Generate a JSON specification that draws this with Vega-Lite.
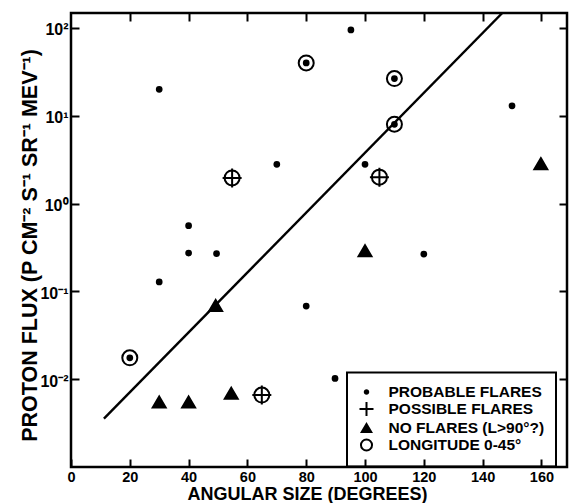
{
  "$schema": "https://vega.github.io/schema/vega-lite/v6.json",
  "width": 496,
  "height": 454,
  "autosize": {"type": "none"},
  "padding": {"left": 71, "top": 13, "right": 2, "bottom": 36},
  "background": "white",
  "config": {
    "view": {"stroke": "black", "strokeWidth": 2.5},
    "font": "Liberation Sans",
    "axis": {
      "domain": false,
      "grid": false,
      "tickColor": "black",
      "tickWidth": 2,
      "tickSize": -8,
      "labelFont": "Liberation Sans",
      "labelFontWeight": "bold",
      "labelColor": "black",
      "titleFont": "Liberation Sans",
      "titleFontWeight": "bold",
      "titleColor": "black"
    },
    "legend": {
      "strokeWidth": 2,
      "title": null,
      "orient": "none",
      "legendX": 276,
      "legendY": 359.5,
      "padding": 11.5,
      "symbolSize": 196,
      "symbolStrokeColor": "black",
      "symbolStrokeWidth": 2,
      "symbolOpacity": 1,
      "labelOffset": 14,
      "rowPadding": -3,
      "labelFont": "Liberation Sans",
      "labelFontSize": 15.5,
      "labelFontWeight": "bold",
      "labelColor": "black",
      "labelLimit": 300,
      "strokeColor": "black"
    }
  },
  "datasets": {
    "fit": [
      {"angle": 11.2, "flux": 0.00356},
      {"angle": 146.7, "flux": 148}
    ],
    "pts": [
      {"angle": 30, "flux": 20, "cat": "PROBABLE FLARES"},
      {"angle": 40, "flux": 0.56, "cat": "PROBABLE FLARES"},
      {"angle": 30, "flux": 0.128, "cat": "PROBABLE FLARES"},
      {"angle": 40, "flux": 0.273, "cat": "PROBABLE FLARES"},
      {"angle": 49.5, "flux": 0.27, "cat": "PROBABLE FLARES"},
      {"angle": 70, "flux": 2.8, "cat": "PROBABLE FLARES"},
      {"angle": 95.2, "flux": 95, "cat": "PROBABLE FLARES"},
      {"angle": 100, "flux": 2.8, "cat": "PROBABLE FLARES"},
      {"angle": 150, "flux": 13, "cat": "PROBABLE FLARES"},
      {"angle": 80, "flux": 0.068, "cat": "PROBABLE FLARES"},
      {"angle": 120, "flux": 0.266, "cat": "PROBABLE FLARES"},
      {"angle": 89.8, "flux": 0.0102, "cat": "PROBABLE FLARES"},
      {"angle": 20, "flux": 0.0175, "cat": "PROBABLE FLARES"},
      {"angle": 80, "flux": 40, "cat": "PROBABLE FLARES"},
      {"angle": 110, "flux": 26.5, "cat": "PROBABLE FLARES"},
      {"angle": 110, "flux": 8.0, "cat": "PROBABLE FLARES"},
      {"angle": 54.8, "flux": 1.96, "cat": "POSSIBLE FLARES"},
      {"angle": 104.9, "flux": 2.0, "cat": "POSSIBLE FLARES"},
      {"angle": 64.9, "flux": 0.0066, "cat": "POSSIBLE FLARES"},
      {"angle": 30, "flux": 0.0055, "cat": "NO FLARES (L>90°?)"},
      {"angle": 40, "flux": 0.0055, "cat": "NO FLARES (L>90°?)"},
      {"angle": 49.2, "flux": 0.069, "cat": "NO FLARES (L>90°?)"},
      {"angle": 54.5, "flux": 0.0069, "cat": "NO FLARES (L>90°?)"},
      {"angle": 100, "flux": 0.29, "cat": "NO FLARES (L>90°?)"},
      {"angle": 159.8, "flux": 2.85, "cat": "NO FLARES (L>90°?)"},
      {"angle": 20, "flux": 0.0175, "cat": "LONGITUDE 0-45°"},
      {"angle": 80, "flux": 40, "cat": "LONGITUDE 0-45°"},
      {"angle": 110, "flux": 26.5, "cat": "LONGITUDE 0-45°"},
      {"angle": 110, "flux": 8.0, "cat": "LONGITUDE 0-45°"},
      {"angle": 54.8, "flux": 1.96, "cat": "LONGITUDE 0-45°"},
      {"angle": 104.9, "flux": 2.0, "cat": "LONGITUDE 0-45°"},
      {"angle": 64.9, "flux": 0.0066, "cat": "LONGITUDE 0-45°"}
    ]
  },
  "layer": [
    {
      "data": {"name": "fit"},
      "mark": {"type": "line", "color": "black", "strokeWidth": 2.4, "clip": true},
      "encoding": {
        "x": {
          "field": "angle", "type": "quantitative",
          "scale": {"domain": [0, 168.7], "nice": false, "zero": false},
          "axis": {"orient": "top", "labels": false, "title": null, "values": [20, 40, 60, 80, 100, 120, 140, 160]}
        },
        "y": {
          "field": "flux", "type": "quantitative",
          "scale": {"type": "log", "domain": [0.001, 148], "nice": false},
          "axis": {"orient": "right", "labels": false, "title": null, "values": [0.01, 0.1, 1, 10, 100]}
        }
      }
    },
    {
      "data": {"name": "pts"},
      "mark": {"type": "point", "filled": true, "size": 361, "stroke": "black", "strokeWidth": 2, "opacity": 1},
      "encoding": {
        "x": {
          "field": "angle", "type": "quantitative",
          "axis": {
            "orient": "bottom",
            "values": [0, 20, 40, 60, 80, 100, 120, 140, 160],
            "labelFontSize": 14.5,
            "labelPadding": 11,
            "labelFlush": false,
            "labelBaseline": "top",
            "title": "ANGULAR SIZE (DEGREES)",
            "titleFontSize": 18,
            "titleX": 236,
            "titleY": 32.3,
            "titleBaseline": "alphabetic",
            "titleAlign": "center"
          }
        },
        "y": {
          "field": "flux", "type": "quantitative",
          "axis": {
            "orient": "left",
            "values": [0.01, 0.1, 1, 10, 100],
            "labelExpr": "datum.value > 50 ? '10²' : datum.value > 5 ? '10¹' : datum.value > 0.5 ? '10⁰' : datum.value > 0.05 ? '10⁻¹' : '10⁻²'",
            "labelFontSize": 16,
            "labelPadding": 11,
            "labelOffset": 2,
            "labelFlush": false,
            "title": "PROTON FLUX (P CM⁻² S⁻¹ SR⁻¹ MEV⁻¹)",
            "titleFontSize": 21.5,
            "titleAngle": 270,
            "titleX": -35,
            "titleY": 232,
            "titleBaseline": "alphabetic",
            "titleAlign": "center"
          }
        },
        "shape": {
          "field": "cat", "type": "nominal",
          "scale": {
            "domain": ["PROBABLE FLARES", "POSSIBLE FLARES", "NO FLARES (L>90°?)", "LONGITUDE 0-45°"],
            "range": [
              "M-0.25,0A0.25,0.25,0,1,0,0.25,0A0.25,0.25,0,1,0,-0.25,0Z",
              "M-1,0L1,0M0,-1L0,1",
              "M0,-0.58L0.68,0.58L-0.68,0.58Z",
              "M-0.79,0A0.79,0.79,0,1,0,0.79,0A0.79,0.79,0,1,0,-0.79,0Z"
            ]
          }
        },
        "fill": {
          "field": "cat", "type": "nominal",
          "scale": {
            "domain": ["PROBABLE FLARES", "POSSIBLE FLARES", "NO FLARES (L>90°?)", "LONGITUDE 0-45°"],
            "range": ["black", "black", "black", "transparent"]
          }
        },
        "stroke": {
          "field": "cat", "type": "nominal",
          "scale": {
            "domain": ["PROBABLE FLARES", "POSSIBLE FLARES", "NO FLARES (L>90°?)", "LONGITUDE 0-45°"],
            "range": ["black", "black", "black", "black"]
          }
        }
      }
    }
  ],
  "resolve": {"axis": {"x": "independent", "y": "independent"}}
}
